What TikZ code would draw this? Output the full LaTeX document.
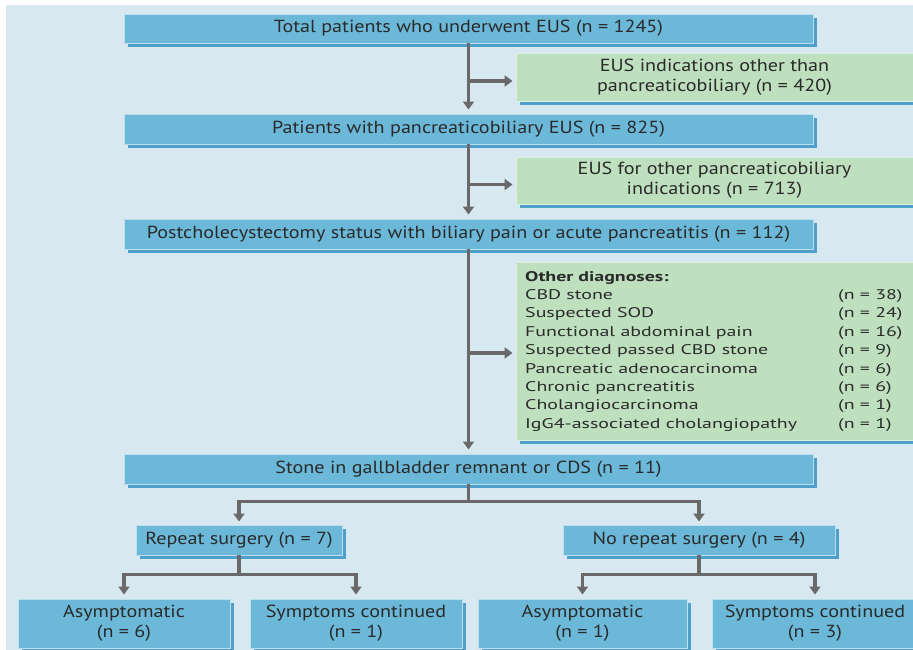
\documentclass[tikz,border=0pt]{standalone}
\usepackage{fontspec}
\setmainfont{PT Sans}[FakeStretch=1.15]
\newfontfamily\listfont{PT Sans}[FakeStretch=1.42]
\usetikzlibrary{arrows.meta,calc}
\definecolor{bg}{HTML}{D8E8F0}
\definecolor{boxblue}{HTML}{6BB8D9}
\definecolor{shadeblue}{HTML}{4E9FCB}
\definecolor{boxgreen}{HTML}{BEE0BF}
\definecolor{linegray}{HTML}{696969}
\definecolor{ink}{HTML}{2A2A2A}
\begin{document}
\begin{tikzpicture}[x=1pt,y=-1pt,
  every node/.style={inner sep=0pt, text=ink},
  base/.style={line width=0.9pt,
    preaction={fill=shadeblue, transform canvas={xshift=4pt,yshift=-4pt}}},
  bluebox/.style={base, draw=white!55!boxblue, fill=boxblue,
    font=\fontsize{17.5}{20}\selectfont, align=center},
  greenbox/.style={base, draw=white!50!boxgreen, fill=boxgreen,
    font=\fontsize{17.5}{20}\selectfont, align=center},
  link/.style={draw=linegray, line width=3.2pt},
  arr/.style={link, -{Triangle[width=11pt,length=8pt]}}
]
\useasboundingbox (0,0) rectangle (913,650);
\clip (0,0) rectangle (913,650);
\fill[bg] (6,5) rectangle (913,650);

% main column
\node[bluebox, minimum width=689pt, minimum height=29pt] (b1) at (468.5,28.5)
  {Total patients who underwent EUS (n = 1245)};
\node[greenbox, minimum width=397pt, minimum height=48pt] (g1) at (714.5,77)
  {EUS indications other than\\pancreaticobiliary (n = 420)};
\node[bluebox, minimum width=689pt, minimum height=30pt] (b2) at (468.5,129)
  {Patients with pancreaticobiliary EUS (n = 825)};
\node[greenbox, minimum width=397pt, minimum height=47pt] (g2) at (714.5,180.5)
  {EUS for other pancreaticobiliary\\indications (n = 713)};
\node[bluebox, minimum width=689pt, minimum height=30pt] (b3) at (468.5,234)
  {Postcholecystectomy status with biliary pain or acute pancreatitis (n = 112)};
\node[greenbox, minimum width=397pt, minimum height=178pt] (g3) at (714.5,351) {};
\node[anchor=north west, font=\listfont\fontsize{14}{18.4}\selectfont] (dx) at (525,268)
  {\begin{tabular}{@{}p{313pt}@{}l@{}}
    \textbf{Other diagnoses:} & \\
    CBD stone & (n = 38)\\
    Suspected SOD & (n = 24)\\
    Functional abdominal pain & (n = 16)\\
    Suspected passed CBD stone & (n = 9)\\
    Pancreatic adenocarcinoma & (n = 6)\\
    Chronic pancreatitis & (n = 6)\\
    Cholangiocarcinoma & (n = 1)\\
    IgG4-associated cholangiopathy & (n = 1)
  \end{tabular}};
\node[bluebox, minimum width=689pt, minimum height=30pt] (b4) at (468.5,469)
  {Stone in gallbladder remnant or CDS (n = 11)};

% second level
\node[bluebox, minimum width=206pt, minimum height=30pt] (b5) at (239,540)
  {Repeat surgery (n = 7)};
\node[bluebox, minimum width=272pt, minimum height=30pt] (b6) at (699,540)
  {No repeat surgery (n = 4)};

% outcomes
\node[bluebox, minimum width=212pt, minimum height=49pt] (a1) at (124,623.5)
  {Asymptomatic\\(n = 6)};
\node[bluebox, minimum width=212pt, minimum height=49pt] (s1) at (356,623.5)
  {Symptoms continued\\(n = 1)};
\node[bluebox, minimum width=209pt, minimum height=49pt] (a2) at (582.5,623.5)
  {Asymptomatic\\(n = 1)};
\node[bluebox, minimum width=206pt, minimum height=49pt] (s2) at (815,623.5)
  {Symptoms continued\\(n = 3)};

% connectors of the main column
\draw[arr, shorten >=4pt] (b1.south) -- (b2.north);
\draw[arr, shorten >=3pt] ([yshift=-4pt]g1.west -| b1.south) -- ([yshift=-4pt]g1.west);
\draw[arr, shorten >=4pt] (b2.south) -- (b3.north);
\draw[arr, shorten >=3pt] ([yshift=-4pt]g2.west -| b2.south) -- ([yshift=-4pt]g2.west);
\draw[arr, shorten >=4pt] (b3.south) -- (b4.north);
\draw[arr, shorten >=3pt] ([yshift=-2pt]g3.west -| b3.south) -- ([yshift=-2pt]g3.west);

% branching tree
\coordinate (sp4) at ([yshift=-17pt]b4.south);
\draw[link] (b4.south) -- (sp4);
\draw[arr, shorten >=3pt] (sp4) -| (b5.north);
\draw[arr, shorten >=3pt] (sp4) -| (b6.north);
\coordinate (sp5) at ([yshift=-19pt]b5.south);
\draw[link] (b5.south) -- (sp5);
\draw[arr, shorten >=4pt] (sp5) -| (a1.north);
\draw[arr, shorten >=4pt] (sp5) -| (s1.north);
\coordinate (sp6) at ([yshift=-19pt]b6.south);
\draw[link] (b6.south) -- (sp6);
\draw[arr, shorten >=4pt] (sp6) -| (a2.north);
\draw[arr, shorten >=4pt] (sp6) -| (s2.north);
\end{tikzpicture}
\end{document}
